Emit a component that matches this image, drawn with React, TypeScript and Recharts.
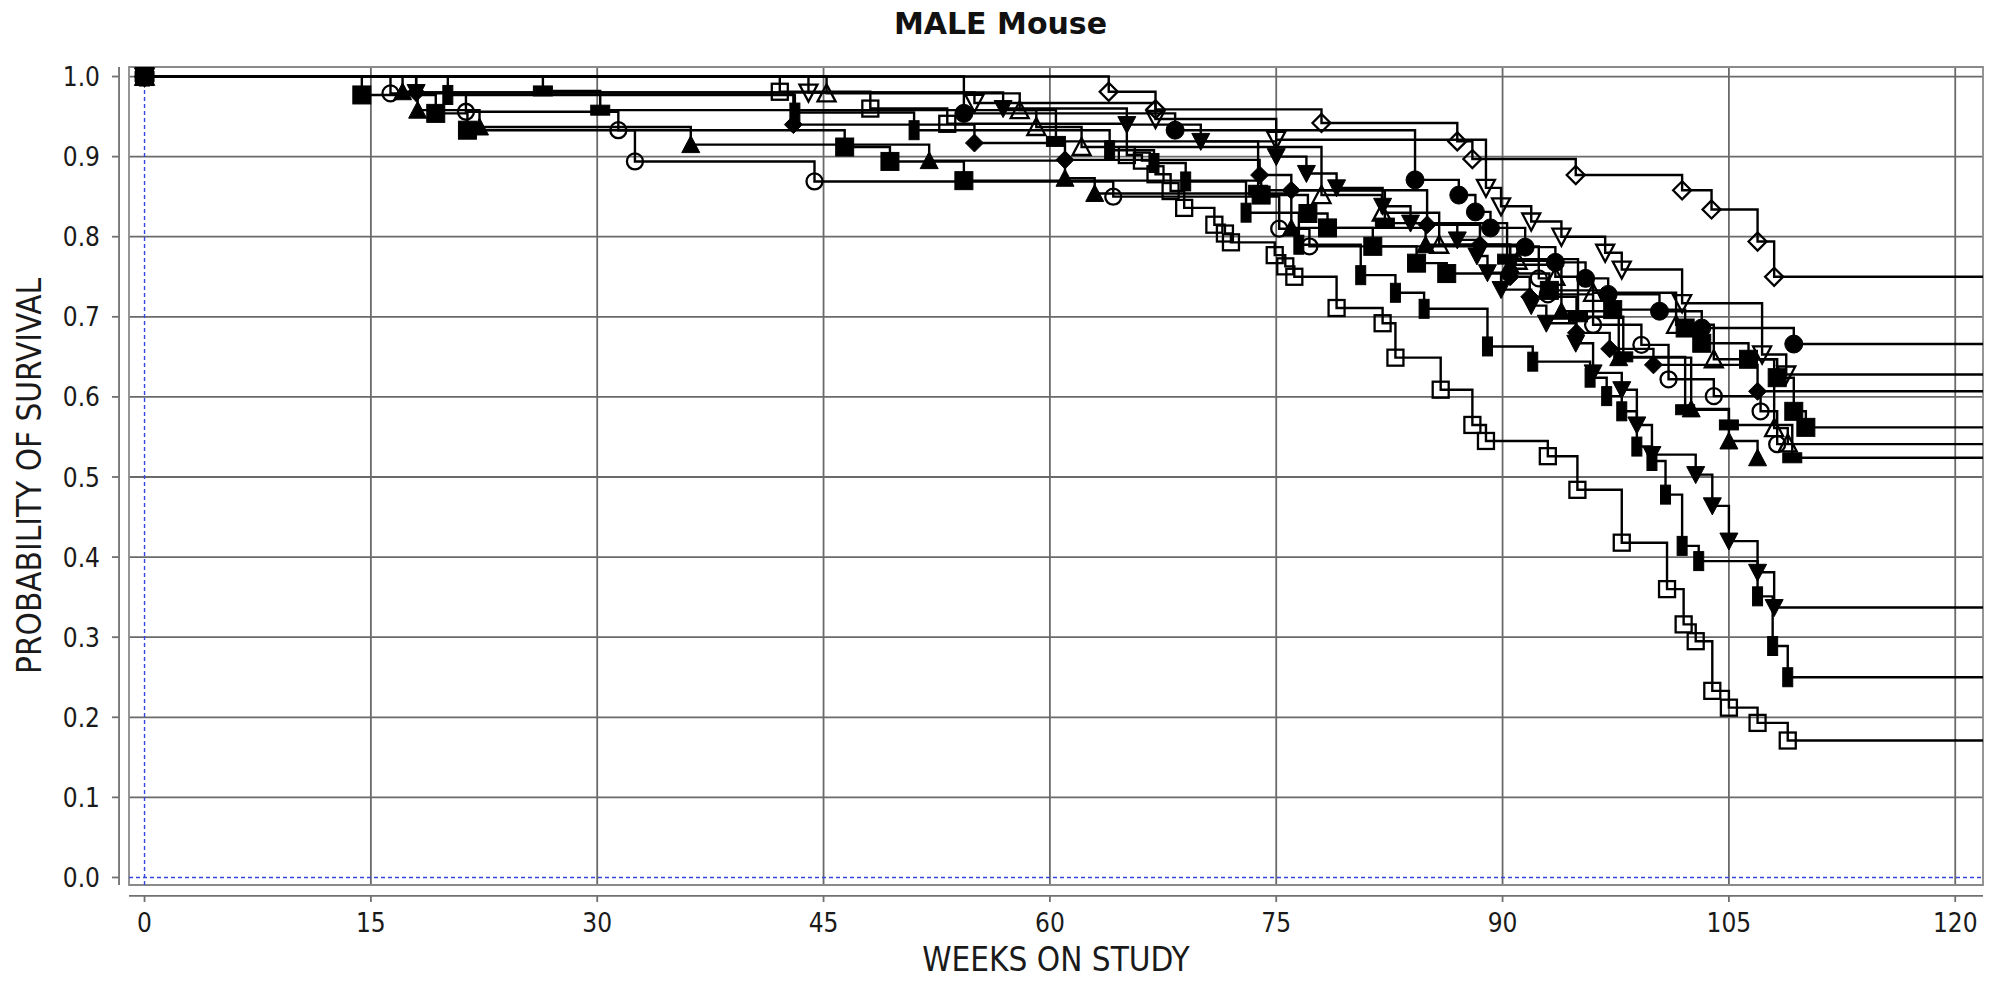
import React from 'react';
import {
  LineChart,
  Line,
  XAxis,
  YAxis,
  CartesianGrid,
  ReferenceLine,
  ReferenceArea,
} from 'recharts';

type Pt = [number, number];

// weeks on study / probability of survival
const openDiamond: Pt[] = [
  [0, 1], [63.9, 0.981], [67.0, 0.959], [78.0, 0.942], [87.0, 0.919], [88.0, 0.897],
  [94.85, 0.877], [101.9, 0.858], [103.85, 0.834], [106.9, 0.794], [108.0, 0.75],
];
const filledCircle: Pt[] = [
  [0, 1], [54.3, 0.954], [68.3, 0.933], [84.2, 0.871], [87.1, 0.852], [88.2, 0.831],
  [89.2, 0.811], [91.5, 0.787], [93.5, 0.768], [95.5, 0.748], [97.0, 0.728],
  [100.4, 0.707], [103.2, 0.686], [109.3, 0.666],
];
const openTriDown: Pt[] = [
  [0, 1], [44.0, 0.98], [55.0, 0.967], [67.0, 0.947], [75.0, 0.921], [88.9, 0.861],
  [89.9, 0.838], [91.9, 0.819], [93.9, 0.8], [96.8, 0.78], [97.9, 0.759],
  [101.9, 0.717], [107.2, 0.653], [108.8, 0.628],
];
const filledSquare: Pt[] = [
  [0, 1], [14.4, 0.977], [19.3, 0.954], [21.4, 0.933], [46.4, 0.912], [49.4, 0.894],
  [54.3, 0.87], [74.0, 0.852], [77.1, 0.829], [78.4, 0.811], [81.4, 0.788],
  [84.3, 0.767], [86.3, 0.754], [93.1, 0.733], [97.3, 0.709], [102.1, 0.686],
  [103.2, 0.667], [106.3, 0.647], [108.2, 0.624], [109.3, 0.582], [110.1, 0.562],
];
const openCircle: Pt[] = [
  [0, 1], [16.3, 0.979], [21.3, 0.956], [31.4, 0.933], [32.5, 0.894], [44.4, 0.869],
  [64.2, 0.85], [75.2, 0.81], [77.2, 0.788], [92.4, 0.748], [93.0, 0.728],
  [96.0, 0.69], [99.2, 0.665], [101.0, 0.622], [104.0, 0.601], [107.1, 0.582],
  [108.2, 0.541],
];
const openTriUp: Pt[] = [
  [0, 1], [45.2, 0.979], [58.0, 0.958], [59.1, 0.937], [62.1, 0.912], [78.0, 0.852],
  [82.0, 0.83], [85.8, 0.79], [91.0, 0.77], [93.5, 0.75], [96.0, 0.73],
  [101.5, 0.69], [104.0, 0.647], [108.0, 0.561], [108.9, 0.542],
];
const hRect: Pt[] = [
  [0, 1], [26.4, 0.982], [30.2, 0.958], [60.4, 0.919], [73.8, 0.858], [82.2, 0.817],
  [90.3, 0.772], [95.0, 0.7], [98.0, 0.65], [102.1, 0.584], [105.0, 0.565],
  [109.2, 0.524],
];
const filledTriUp: Pt[] = [
  [0, 1], [17.1, 0.981], [18.1, 0.958], [22.2, 0.937], [36.2, 0.915], [52.0, 0.895],
  [61.0, 0.873], [62.97, 0.854], [76.0, 0.811], [84.9, 0.79], [90.5, 0.765],
  [93.9, 0.707], [97.7, 0.649], [102.5, 0.585], [105.0, 0.545], [106.9, 0.524],
];
const filledDiamond: Pt[] = [
  [0, 1], [18.0, 0.98], [43.0, 0.94], [55.0, 0.917], [61.0, 0.896], [73.9, 0.877],
  [76.0, 0.858], [85.0, 0.815], [88.5, 0.79], [90.5, 0.75], [91.8, 0.725],
  [94.9, 0.68], [97.1, 0.66], [100.0, 0.64], [106.9, 0.607],
];
const filledTriDown: Pt[] = [
  [0, 1], [18.0, 0.98], [56.9, 0.96], [65.1, 0.94], [70.0, 0.919], [75.0, 0.9],
  [77.0, 0.879], [79.0, 0.861], [82.05, 0.838], [83.9, 0.817], [87.0, 0.796],
  [88.3, 0.776], [89.0, 0.755], [89.9, 0.734], [91.9, 0.714], [92.9, 0.692],
  [94.85, 0.667], [96.0, 0.63], [97.9, 0.609], [98.9, 0.565], [99.9, 0.528],
  [102.8, 0.503], [103.9, 0.464], [105.0, 0.42], [106.9, 0.381], [108.0, 0.337],
];
const vRect: Pt[] = [
  [0, 1], [20.1, 0.977], [43.1, 0.955], [51.0, 0.933], [63.96, 0.908], [66.9, 0.892],
  [69.0, 0.869], [73.0, 0.83], [76.5, 0.79], [80.6, 0.752], [82.9, 0.73],
  [84.8, 0.71], [89.0, 0.663], [92.0, 0.644], [95.8, 0.624], [96.9, 0.601],
  [97.9, 0.582], [98.9, 0.538], [99.9, 0.52], [100.8, 0.478], [101.9, 0.414],
  [103.0, 0.395], [106.9, 0.351], [107.9, 0.289], [108.9, 0.25],
];
const openSquare: Pt[] = [
  [0, 1], [42.1, 0.981], [48.1, 0.96], [53.2, 0.941], [65.1, 0.902], [66.1, 0.895],
  [67.0, 0.878], [68.0, 0.857], [68.9, 0.836], [70.9, 0.815], [71.6, 0.804],
  [72.0, 0.793], [74.9, 0.777], [75.6, 0.763], [76.2, 0.75], [79.0, 0.711],
  [82.05, 0.692], [82.9, 0.649], [85.9, 0.609], [88.0, 0.565], [88.9, 0.545],
  [93.0, 0.526], [94.96, 0.484], [97.9, 0.418], [100.9, 0.36], [102.0, 0.316],
  [102.8, 0.295], [103.9, 0.233], [105.0, 0.212], [106.9, 0.193], [108.9, 0.171],
];

const weekTicks = [0, 15, 30, 45, 60, 75, 90, 105, 120];
const survTicks = [0, 0.1, 0.2, 0.3, 0.4, 0.5, 0.6, 0.7, 0.8, 0.9, 1.0];

const X_MIN = -1.03;
const X_MAX = 121.84;
const Y_MIN = -0.0094;
const Y_MAX = 1.0119;
const Y_AXIS_AT = -1.69;
const X_AXIS_AT = -0.0231;

type Shape =
  | 'diamondOpen' | 'circleFill' | 'triDownOpen' | 'squareFill' | 'circleOpen'
  | 'triUpOpen' | 'hRect' | 'triUpFill' | 'diamondFill' | 'triDownFill'
  | 'vRect' | 'squareOpen';

interface Series {
  id: string;
  shape: Shape;
  pts: Pt[];
  tail: boolean;
}

const series: Series[] = [
  { id: 'sqOpen', shape: 'squareOpen', pts: openSquare, tail: true },
  { id: 'vRect', shape: 'vRect', pts: vRect, tail: true },
  { id: 'triDownFill', shape: 'triDownFill', pts: filledTriDown, tail: true },
  { id: 'triUpFill', shape: 'triUpFill', pts: filledTriUp, tail: false },
  { id: 'hRect', shape: 'hRect', pts: hRect, tail: true },
  { id: 'triUpOpen', shape: 'triUpOpen', pts: openTriUp, tail: false },
  { id: 'circOpen', shape: 'circleOpen', pts: openCircle, tail: true },
  { id: 'diaFill', shape: 'diamondFill', pts: filledDiamond, tail: true },
  { id: 'sqFill', shape: 'squareFill', pts: filledSquare, tail: true },
  { id: 'triDownOpen', shape: 'triDownOpen', pts: openTriDown, tail: true },
  { id: 'circFill', shape: 'circleFill', pts: filledCircle, tail: true },
  { id: 'diaOpen', shape: 'diamondOpen', pts: openDiamond, tail: true },
];

const FONT = "'DejaVu Sans Condensed', 'DejaVu Sans', sans-serif";

function Marker({ shape, x, y }: { shape: Shape; x: number; y: number }) {
  const h = 9;
  const open = { fill: 'none', stroke: '#000', strokeWidth: 2.3 };
  const solid = { fill: '#000', stroke: '#000', strokeWidth: 1 };
  switch (shape) {
    case 'squareFill':
      return <rect x={x - h} y={y - h} width={2 * h} height={2 * h} {...solid} />;
    case 'squareOpen':
      return <rect x={x - 8} y={y - 8} width={16} height={16} {...open} />;
    case 'circleFill':
      return <circle cx={x} cy={y} r={9} {...solid} />;
    case 'circleOpen':
      return <circle cx={x} cy={y} r={8} {...open} />;
    case 'triUpFill':
    case 'triUpOpen':
      return (
        <polygon
          points={`${x},${y - 9} ${x + 9},${y + 8} ${x - 9},${y + 8}`}
          {...(shape === 'triUpFill' ? solid : open)}
        />
      );
    case 'triDownFill':
    case 'triDownOpen':
      return (
        <polygon
          points={`${x - 9},${y - 8} ${x + 9},${y - 8} ${x},${y + 9}`}
          {...(shape === 'triDownFill' ? solid : open)}
        />
      );
    case 'diamondFill':
    case 'diamondOpen':
      return (
        <polygon
          points={`${x},${y - 9} ${x + 9},${y} ${x},${y + 9} ${x - 9},${y}`}
          {...(shape === 'diamondFill' ? solid : open)}
        />
      );
    case 'vRect':
      return <rect x={x - 5} y={y - 9.5} width={10} height={19} {...solid} />;
    case 'hRect':
      return <rect x={x - 9.5} y={y - 5} width={19} height={10} {...solid} />;
    default:
      return null;
  }
}

const makeDot = (s: Series) => (props: any) => {
  const { cx, cy, index, payload } = props;
  if (cx == null || cy == null || payload?.end) return <g key={`${s.id}-${index}`} />;
  return (
    <g key={`${s.id}-${index}`}>
      <Marker shape={s.shape} x={cx} y={cy} />
    </g>
  );
};

const toRows = (s: Series) => {
  const rows = s.pts.map(([t, p]) => ({ t, s: p, end: false }));
  if (s.tail) rows.push({ t: X_MAX, s: s.pts[s.pts.length - 1][1], end: true });
  return rows;
};

const XTick = ({ x, y, payload }: any) => (
  <g>
    <line x1={x} x2={x} y1={y + 11} y2={y + 17} stroke="#707070" strokeWidth={1.8} />
    <text x={x} y={y + 47} textAnchor="middle" fontSize={26} fontFamily={FONT} fill="#1a1a1a">
      {payload.value}
    </text>
  </g>
);

const YTick = ({ x, y, payload }: any) => (
  <g>
    <line x1={x - 17} x2={x - 10} y1={y} y2={y} stroke="#707070" strokeWidth={1.8} />
    <text x={x - 29} y={y + 9.5} textAnchor="end" fontSize={26} fontFamily={FONT} fill="#1a1a1a">
      {Number(payload.value).toFixed(1)}
    </text>
  </g>
);

const XLabel = ({ viewBox }: any) => (
  <text
    x={viewBox.x + viewBox.width / 2}
    y={viewBox.y + 86}
    textAnchor="middle"
    fontSize={33}
    fontFamily={FONT}
    fill="#1a1a1a"
  >
    WEEKS ON STUDY
  </text>
);

const YLabel = ({ viewBox }: any) => {
  const cx = viewBox.x + 41;
  const cy = viewBox.y + viewBox.height / 2;
  return (
    <text
      x={cx}
      y={cy}
      transform={`rotate(-90 ${cx} ${cy})`}
      textAnchor="middle"
      fontSize={33}
      fontFamily={FONT}
      fill="#1a1a1a"
    >
      PROBABILITY OF SURVIVAL
    </text>
  );
};

export default function App() {
  return (
    <div style={{ position: 'absolute', left: 0, top: 0, width: 2001, height: 981, background: '#fff' }}>
      <div
        style={{
          position: 'absolute',
          left: 0,
          top: 9,
          width: 2001,
          textAlign: 'center',
          fontFamily: "'DejaVu Sans', sans-serif",
          fontWeight: 'bold',
          fontSize: 30,
          lineHeight: '30px',
          color: '#111',
        }}
      >
        MALE Mouse
      </div>
      <LineChart
        width={2001}
        height={981}
        margin={{ top: 67, right: 18, bottom: 0, left: 0 }}
        style={{ position: 'absolute', left: 0, top: 0 }}
      >
        <CartesianGrid
          stroke="#6a6a6a"
          strokeWidth={1.8}
          verticalValues={weekTicks.filter((v) => v !== 0)}
          horizontalValues={survTicks.filter((v) => v !== 0)}
        />
        <XAxis
          type="number"
          dataKey="t"
          domain={[X_MIN, X_MAX]}
          ticks={weekTicks}
          allowDataOverflow
          height={96}
          axisLine={false}
          tickLine={false}
          tickSize={0}
          tickMargin={0}
          tick={<XTick />}
          interval={0}
          label={<XLabel />}
        />
        <YAxis
          type="number"
          dataKey="s"
          domain={[Y_MIN, Y_MAX]}
          ticks={survTicks}
          allowDataOverflow
          width={129}
          axisLine={false}
          tickLine={false}
          tickSize={0}
          tickMargin={0}
          tick={<YTick />}
          interval={0}
          label={<YLabel />}
        />
        <ReferenceArea
          x1={X_MIN}
          x2={X_MAX}
          y1={Y_MIN}
          y2={Y_MAX}
          fill="none"
          stroke="#8a8a8a"
          strokeWidth={1.8}
          ifOverflow="visible"
        />
        <ReferenceLine x={Y_AXIS_AT} stroke="#707070" strokeWidth={1.8} ifOverflow="visible" />
        <ReferenceLine y={X_AXIS_AT} stroke="#707070" strokeWidth={1.8} ifOverflow="visible" />
        <ReferenceLine x={0} stroke="#3347e0" strokeWidth={1.4} strokeDasharray="4 3" />
        <ReferenceLine y={0} stroke="#3347e0" strokeWidth={1.4} strokeDasharray="4 3" />
        {series.map((s) => (
          <Line
            key={s.id}
            data={toRows(s)}
            dataKey="s"
            type="stepAfter"
            stroke="#000"
            strokeWidth={2.4}
            dot={makeDot(s)}
            activeDot={false}
            isAnimationActive={false}
          />
        ))}
      </LineChart>
    </div>
  );
}
